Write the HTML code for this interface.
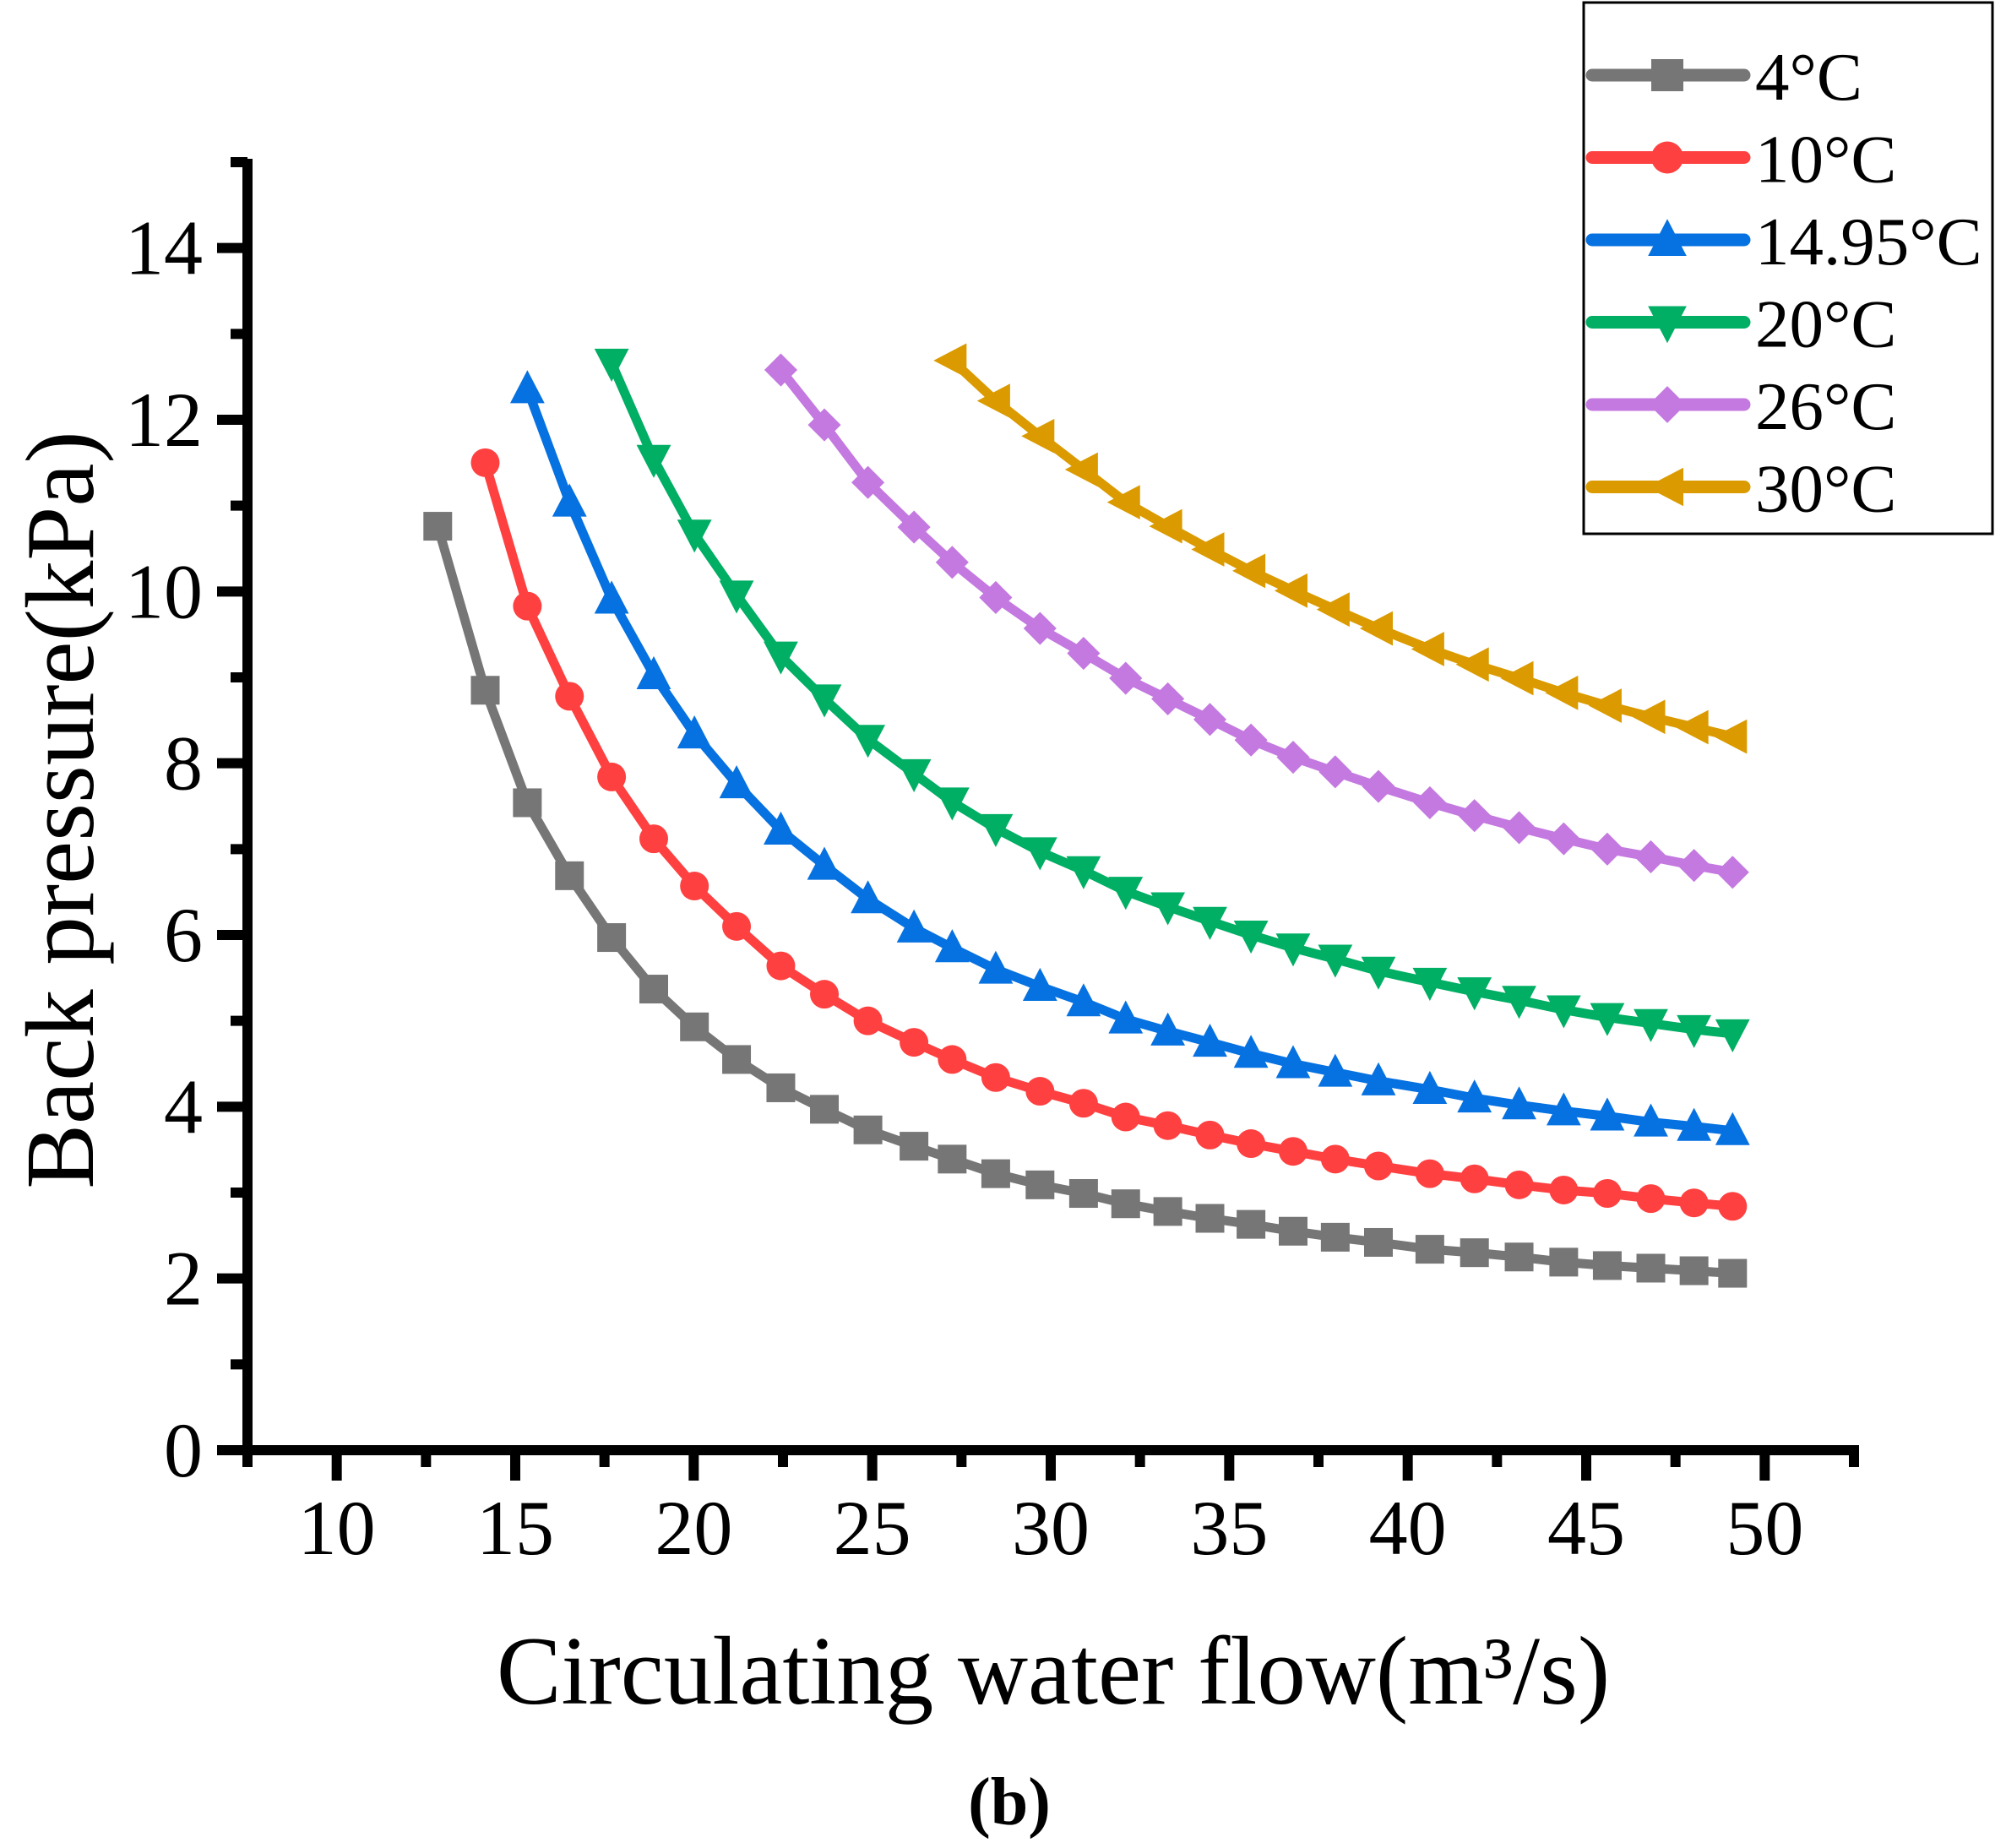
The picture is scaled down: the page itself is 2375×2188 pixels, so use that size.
<!DOCTYPE html>
<html><head><meta charset="utf-8"><style>
html,body{margin:0;padding:0;background:#fff}
svg{display:block}
text{font-family:"Liberation Serif","Times New Roman",serif;fill:#000}
</style></head><body>
<svg id="chart" width="2375" height="2188" viewBox="0 0 2375 2188" xmlns="http://www.w3.org/2000/svg">
<g id="plot"></g>
<g id="axes"></g>
<text x="1247" y="2017" font-size="115" text-anchor="middle">Circulating water flow(m³/s)</text>
<text x="0" y="0" font-size="115" text-anchor="middle" transform="translate(110,959) rotate(-90)">Back pressure(kPa)</text>
<text x="1195" y="2160" font-size="80" font-weight="bold" text-anchor="middle">(b)</text>
<g id="legend"></g>
</svg>
<script>
const xGrid = [12.83,14.16,15.34,16.52,17.70,18.88,20.02,21.20,22.44,23.66,24.88,26.17,27.24,28.46,29.70,30.92,32.10,33.28,34.46,35.61,36.79,37.97,39.18,40.62,41.87,43.12,44.37,45.59,46.81,48.02,49.10];
const seriesNames = ["4°C","10°C","14.95°C","20°C","26°C","30°C"];
const startIndex = [0,1,2,4,8,12];
const s4 = [10.76,8.85,7.54,6.69,5.97,5.37,4.93,4.55,4.22,3.97,3.73,3.54,3.39,3.22,3.09,2.99,2.87,2.78,2.70,2.63,2.55,2.48,2.42,2.34,2.30,2.25,2.19,2.15,2.12,2.09,2.06];
const s10 = [11.5,9.83,8.78,7.84,7.12,6.57,6.10,5.64,5.31,5.0,4.75,4.55,4.34,4.18,4.04,3.88,3.78,3.67,3.57,3.48,3.39,3.31,3.22,3.16,3.09,3.03,2.99,2.93,2.88,2.84];
const s1495 = [12.36,11.04,9.91,9.03,8.34,7.76,7.22,6.81,6.42,6.08,5.85,5.6,5.4,5.22,5.02,4.88,4.75,4.62,4.5,4.4,4.3,4.2,4.1,4.02,3.95,3.89,3.82,3.77,3.72];
const s20 = [12.66,11.54,10.67,9.96,9.25,8.75,8.28,7.88,7.55,7.24,6.97,6.75,6.51,6.33,6.16,6.0,5.85,5.72,5.58,5.45,5.34,5.24,5.13,5.04,4.97,4.9,4.85];
const s26 = [12.58,11.94,11.27,10.75,10.34,9.93,9.57,9.28,8.99,8.75,8.51,8.27,8.07,7.9,7.73,7.54,7.39,7.25,7.12,7.0,6.91,6.81,6.73];
const s30 = [12.69,12.22,11.81,11.42,11.04,10.76,10.49,10.24,10.01,9.79,9.57,9.33,9.15,8.99,8.82,8.67,8.54,8.42,8.31];
const xTicks = [10,15,20,25,30,35,40,45,50];
const yTicks = [0,2,4,6,8,10,12,14];

const NS="http://www.w3.org/2000/svg";
const X0=7.5,X1=52.5,Y0=0,Y1=15;
const PX0=293,PX1=2195,PY0=1717,PY1=192;
const xs=v=>PX0+(v-X0)/(X1-X0)*(PX1-PX0);
const ys=v=>PY0-(v-Y0)/(Y1-Y0)*(PY0-PY1);
function mk(tag,attrs,parent){const e=document.createElementNS(NS,tag);for(const k in attrs)e.setAttribute(k,attrs[k]);parent.appendChild(e);return e;}
const colors=["#767676","#ff4040","#0671e0","#00ae64","#c479e0","#db9b00"];
const markers=["square","circle","up","down","diamond","left"];
const slugs=["4c","10c","14-95c","20c","26c","30c"];
const allSeries=[s4,s10,s1495,s20,s26,s30];
function marker(type,cx,cy,col,parent,r){
  r=r||17;let el;
  if(type==="square") el=mk("rect",{x:cx-r,y:cy-r,width:2*r,height:2*r,fill:col},parent);
  else if(type==="circle") el=mk("circle",{cx:cx,cy:cy,r:r,fill:col},parent);
  else { let p;
    if(type==="up") p=[[cx,cy-r*1.3],[cx+r*1.2,cy+r],[cx-r*1.2,cy+r]];
    else if(type==="down") p=[[cx,cy+r*1.3],[cx+r*1.2,cy-r],[cx-r*1.2,cy-r]];
    else if(type==="diamond") p=[[cx,cy-r*1.15],[cx+r*1.15,cy],[cx,cy+r*1.15],[cx-r*1.15,cy]];
    else p=[[cx-r*1.3,cy],[cx+r,cy-r*1.2],[cx+r,cy+r*1.2]];
    el=mk("polygon",{points:p.map(q=>q.join(",")).join(" "),fill:col},parent);
  }
  return el;
}
const plot=document.getElementById("plot");
allSeries.forEach((vals,si)=>{
  const g=mk("g",{},plot);
  
  
  const pts=vals.map((v,i)=>[xs(xGrid[startIndex[si]+i]),ys(v)]);
  const line=mk("polyline",{points:pts.map(p=>p.join(",")).join(" "),fill:"none",stroke:colors[si],"stroke-width":11,"stroke-linejoin":"round","stroke-linecap":"round"},g);
  
  
  pts.forEach((p,i)=>{
    const m=marker(markers[si],p[0],p[1],colors[si],g);
    
    
  });
});
const axes=document.getElementById("axes");
const lw=12;
const xa=mk("line",{x1:PX0-lw/2,y1:PY0,x2:PX1+lw/2,y2:PY0,stroke:"#000","stroke-width":lw},axes);


const ya=mk("line",{x1:PX0,y1:PY0+lw/2,x2:PX0,y2:PY1-4,stroke:"#000","stroke-width":lw},axes);


for(let v=7.5;v<=52.5;v+=5){const x=xs(v);mk("line",{x1:x,y1:PY0,x2:x,y2:PY0+lw/2+14,stroke:"#000","stroke-width":lw},axes);}
xTicks.forEach(v=>{
  const x=xs(v);
  mk("line",{x1:x,y1:PY0,x2:x,y2:PY0+lw/2+30,stroke:"#000","stroke-width":lw},axes);
  const t=mk("text",{x:x,y:1840,"font-size":92,"text-anchor":"middle"},axes);
  
  
  t.textContent=v;
});
for(let v=1;v<=15;v+=2){const y=ys(v);mk("line",{x1:PX0,y1:y,x2:PX0-lw/2-14,y2:y,stroke:"#000","stroke-width":lw},axes);}
yTicks.forEach(v=>{
  const y=ys(v);
  mk("line",{x1:PX0,y1:y,x2:PX0-lw/2-30,y2:y,stroke:"#000","stroke-width":lw},axes);
  const t=mk("text",{x:240,y:y+31,"font-size":92,"text-anchor":"end"},axes);
  
  
  t.textContent=v;
});
const leg=document.getElementById("legend");
mk("rect",{x:1875,y:3,width:484,height:629,fill:"#fff",stroke:"#000","stroke-width":3},leg);
seriesNames.forEach((n,i)=>{
  const y=89+i*97.5;
  const g=mk("g",{},leg);
  
  
  mk("line",{x1:1885,y1:y,x2:2065,y2:y,stroke:colors[i],"stroke-width":15,"stroke-linecap":"round"},g);
  marker(markers[i],1974,y,colors[i],g,19);
  const t=mk("text",{x:2078,y:y+29,"font-size":81},g);
  t.textContent=n;
});
</script>
</body></html>
